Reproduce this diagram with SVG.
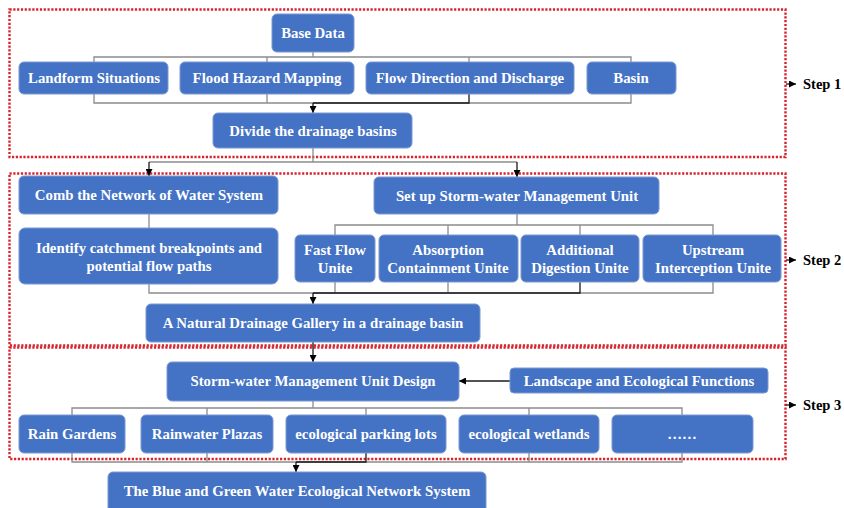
<svg xmlns="http://www.w3.org/2000/svg" width="844" height="508" viewBox="0 0 844 508">
  <defs>
    <marker id="arr" viewBox="0 0 10 10" refX="10" refY="5" markerWidth="7" markerHeight="7" markerUnits="userSpaceOnUse" orient="auto">
      <path d="M0,0 L10,5 L0,10 z" fill="#000"/>
    </marker>
    <style>
      .node rect { fill: #4472c4; stroke: #7b98d2; stroke-width: 1; }
      .node text { fill: #fff; font-family: "Liberation Serif", "Times New Roman", serif; font-weight: bold; font-size: 14.8px; text-anchor: middle; }
      .step { fill: none; stroke: #d7232c; stroke-width: 2.4; stroke-dasharray: 2.2 1.6; }
      .steplbl { fill: #000; font-family: "Liberation Serif", "Times New Roman", serif; font-weight: bold; font-size: 14.5px; }
      .tree { fill: none; stroke: #8c8c8c; stroke-width: 1.3; }
      .flow { fill: none; stroke: #1a1a1a; stroke-width: 1.3; }
      .flowa { fill: none; stroke: #1a1a1a; stroke-width: 1.3; marker-end: url(#arr); }
    </style>
  </defs>

  <rect width="844" height="508" fill="#fff"/>

  <!-- step frames -->
  <g id="frames">
    <rect class="step" x="9.5" y="9.5" width="776" height="147.5"/>
    <rect class="step" x="9.5" y="173.5" width="776" height="172"/>
    <rect class="step" x="9.5" y="347.5" width="776" height="111.5"/>
  </g>

  <!-- connectors -->
  <g id="connectors">
    <!-- step 1 -->
    <polyline class="tree" points="313,52 313,57"/>
    <polyline class="tree" points="94,62 94,57 631,57 631,62"/>
    <polyline class="tree" points="267,57 267,62"/>
    <polyline class="tree" points="469,57 469,62"/>
    <polyline class="tree" points="94,94 94,103 631,103 631,94"/>
    <polyline class="tree" points="267,94 267,103"/>
    <polyline class="flow" points="469,94 469,103 313,103"/>
    <line class="flowa" x1="313" y1="103" x2="313" y2="113"/>
    <!-- step 1 to step 2 -->
    <polyline class="tree" points="313,148 313,162"/>
    <polyline class="tree" points="149,162 517,162"/>
    <line class="flowa" x1="149" y1="162" x2="149" y2="176"/>
    <line class="flowa" x1="517" y1="162" x2="517" y2="177"/>
    <!-- step 2 -->
    <polyline class="tree" points="149,214 149,228"/>
    <polyline class="tree" points="517,214 517,225"/>
    <polyline class="tree" points="335,235 335,225 713,225 713,235"/>
    <polyline class="tree" points="448,225 448,235"/>
    <polyline class="tree" points="580,225 580,235"/>
    <polyline class="tree" points="149,284 149,293 713,293 713,282"/>
    <polyline class="tree" points="335,282 335,293"/>
    <polyline class="tree" points="448,282 448,293"/>
    <polyline class="flow" points="580,282 580,293 313,293"/>
    <line class="flowa" x1="313" y1="293" x2="313" y2="304"/>
    <!-- step 2 to step 3 -->
    <line class="flowa" x1="313" y1="342" x2="313" y2="362"/>
    <line class="flowa" x1="510" y1="381" x2="459" y2="381"/>
    <!-- step 3 -->
    <polyline class="tree" points="313,401 313,408"/>
    <polyline class="tree" points="72,415 72,408 682,408 682,415"/>
    <polyline class="tree" points="207,408 207,415"/>
    <polyline class="tree" points="366,408 366,415"/>
    <polyline class="tree" points="529,408 529,415"/>
    <polyline class="tree" points="72,453 72,462 682,462 682,453"/>
    <polyline class="tree" points="207,453 207,462"/>
    <polyline class="tree" points="529,453 529,462"/>
    <polyline class="flow" points="366,453 366,462 296,462"/>
    <line class="flowa" x1="296" y1="462" x2="296" y2="472"/>
    <!-- step labels -->
    <line class="flowa" x1="786" y1="84" x2="796" y2="84"/>
    <line class="flowa" x1="786" y1="260" x2="796" y2="260"/>
    <line class="flowa" x1="786" y1="405" x2="796" y2="405"/>
  </g>

  <!-- step 1 nodes -->
  <g id="base-data" class="node"><rect x="272" y="14" width="82" height="38" rx="5"/><text x="313" y="38">Base Data</text></g>
  <g id="landform" class="node"><rect x="19" y="62" width="149" height="32" rx="5"/><text x="94" y="83">Landform Situations</text></g>
  <g id="flood-hazard" class="node"><rect x="180" y="62" width="174" height="32" rx="5"/><text x="267" y="83">Flood Hazard Mapping</text></g>
  <g id="flow-direction" class="node"><rect x="366" y="62" width="208" height="32" rx="5"/><text x="470" y="83">Flow Direction and Discharge</text></g>
  <g id="basin" class="node"><rect x="587" y="62" width="89" height="32" rx="5"/><text x="631" y="83">Basin</text></g>
  <g id="divide" class="node"><rect x="213" y="113" width="199" height="35" rx="5"/><text x="313" y="136">Divide the drainage basins</text></g>

  <!-- step 2 nodes -->
  <g id="comb" class="node"><rect x="19" y="176" width="259" height="38" rx="5"/><text x="149" y="200">Comb the Network of Water System</text></g>
  <g id="identify" class="node"><rect x="19" y="228" width="259" height="56" rx="6"/><text x="149" y="253">Identify catchment breakpoints and</text><text x="149" y="271">potential flow paths</text></g>
  <g id="setup-unit" class="node"><rect x="374" y="177" width="285" height="37" rx="5"/><text x="517" y="201">Set up Storm-water Management Unit</text></g>
  <g id="fast-flow" class="node"><rect x="295" y="235" width="80" height="47" rx="5"/><text x="335" y="255">Fast Flow</text><text x="335" y="273">Unite</text></g>
  <g id="absorption" class="node"><rect x="379" y="235" width="139" height="47" rx="5"/><text x="448" y="255">Absorption</text><text x="448" y="273">Containment Unite</text></g>
  <g id="additional" class="node"><rect x="521" y="235" width="118" height="47" rx="5"/><text x="580" y="255">Additional</text><text x="580" y="273">Digestion Unite</text></g>
  <g id="upstream" class="node"><rect x="643" y="235" width="138" height="47" rx="5"/><text x="713" y="255">Upstream</text><text x="713" y="273">Interception Unite</text></g>
  <g id="gallery" class="node"><rect x="146" y="304" width="334" height="38" rx="5"/><text x="313" y="328">A Natural Drainage Gallery in a drainage basin</text></g>

  <!-- step 3 nodes -->
  <g id="unit-design" class="node"><rect x="167" y="362" width="292" height="39" rx="5"/><text x="313" y="386">Storm-water Management Unit Design</text></g>
  <g id="landscape" class="node"><rect x="510" y="368" width="258" height="25" rx="4"/><text x="639" y="386">Landscape and Ecological Functions</text></g>
  <g id="rain-gardens" class="node"><rect x="19" y="415" width="106" height="38" rx="5"/><text x="72" y="439">Rain Gardens</text></g>
  <g id="rainwater-plazas" class="node"><rect x="141" y="415" width="132" height="38" rx="5"/><text x="207" y="439">Rainwater Plazas</text></g>
  <g id="parking-lots" class="node"><rect x="286" y="415" width="160" height="38" rx="5"/><text x="366" y="439">ecological parking lots</text></g>
  <g id="wetlands" class="node"><rect x="459" y="415" width="140" height="38" rx="5"/><text x="529" y="439">ecological wetlands</text></g>
  <g id="more" class="node"><rect x="612" y="415" width="141" height="38" rx="5"/><text x="682" y="439">……</text></g>
  <g id="network-system" class="node"><rect x="108" y="472" width="378" height="42" rx="5"/><text x="297" y="496">The Blue and Green Water Ecological Network System</text></g>

  <!-- step labels -->
  <g id="step-labels">
    <text class="steplbl" x="803" y="89">Step 1</text>
    <text class="steplbl" x="803" y="265">Step 2</text>
    <text class="steplbl" x="803" y="410">Step 3</text>
  </g>
</svg>
